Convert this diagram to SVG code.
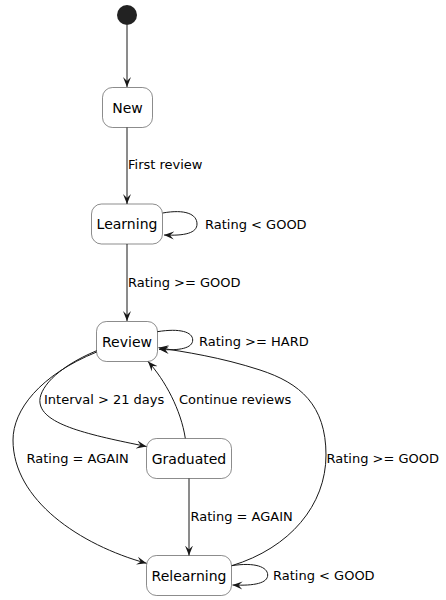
<svg xmlns="http://www.w3.org/2000/svg" width="446" height="600" viewBox="0 0 446 600">
<style>
.st rect{fill:#fff;stroke:#181818;stroke-width:0.5}
.st text{font-family:"DejaVu Sans",sans-serif;font-size:14px;fill:#000;text-anchor:middle}
.lbl{font-family:"DejaVu Sans",sans-serif;font-size:13px;fill:#000}
.e path{fill:none;stroke:#181818;stroke-width:1;marker-end:url(#ah)}
</style>
<defs>
<marker id="ah" markerUnits="userSpaceOnUse" markerWidth="12" markerHeight="10" viewBox="-10 -5 12 10" refX="0" refY="0" orient="auto">
<path d="M0,0 L-10,-4 L-6,0 L-10,4 Z" fill="#181818"/>
</marker>
</defs>
<g id="start"><circle cx="127" cy="15" r="10" fill="#222"/></g>
<g id="New" class="st"><rect x="102.5" y="87.5" width="50" height="40" rx="10"/><text x="127.5" y="112.5">New</text></g>
<g id="Learning" class="st"><rect x="91.5" y="204" width="71" height="40" rx="10"/><text x="127" y="229">Learning</text></g>
<g id="Review" class="st"><rect x="96.5" y="321.5" width="61" height="40" rx="10"/><text x="127" y="346.5">Review</text></g>
<g id="Graduated" class="st"><rect x="146.5" y="438.5" width="85" height="40" rx="10"/><text x="189" y="463.5">Graduated</text></g>
<g id="Relearning" class="st"><rect x="146.5" y="555.5" width="85" height="40" rx="10"/><text x="189" y="580.5">Relearning</text></g>
<g id="edges" class="e">
<path d="M127,25 L127,87"/>
<path d="M127,127.5 L127,204"/>
<path d="M162.7,213 C185,209 197,214 197,224 C197,233 185,236 164,235"/>
<path d="M127,244 L127,321"/>
<path d="M157.3,331.7 C180,328 192.7,332 192.7,340 C192.7,348 180,351 159,349.3"/>
<path d="M96.7,350.7 C55,368 38,390 40,403 C43,425 90,435 146.5,446.5"/>
<path d="M96.7,352 C40,375 13,410 13,440 C13,500 80,545 146.5,563.3"/>
<path d="M185.3,438.3 C181,410 165,380 148,361.5"/>
<path d="M231.7,565.7 C290,548 326,505 326,455 C326,405 300,383 260,370 C220,357 185,352 158.5,347.7"/>
<path d="M189,478.5 L189,555.5"/>
<path d="M231.7,565.7 C255,562 267.7,567 267.7,575 C267.7,583 255,586 232.5,585"/>
</g>
<g id="labels">
<text class="lbl" x="128" y="169">First review</text>
<text class="lbl" x="205" y="229">Rating &lt; GOOD</text>
<text class="lbl" x="128" y="287">Rating &gt;= GOOD</text>
<text class="lbl" x="199" y="346">Rating &gt;= HARD</text>
<text class="lbl" x="44" y="404">Interval &gt; 21 days</text>
<text class="lbl" x="179" y="404">Continue reviews</text>
<text class="lbl" x="26.5" y="463">Rating = AGAIN</text>
<text class="lbl" x="326.5" y="463">Rating &gt;= GOOD</text>
<text class="lbl" x="190.5" y="521">Rating = AGAIN</text>
<text class="lbl" x="273" y="580">Rating &lt; GOOD</text>
</g>
</svg>
